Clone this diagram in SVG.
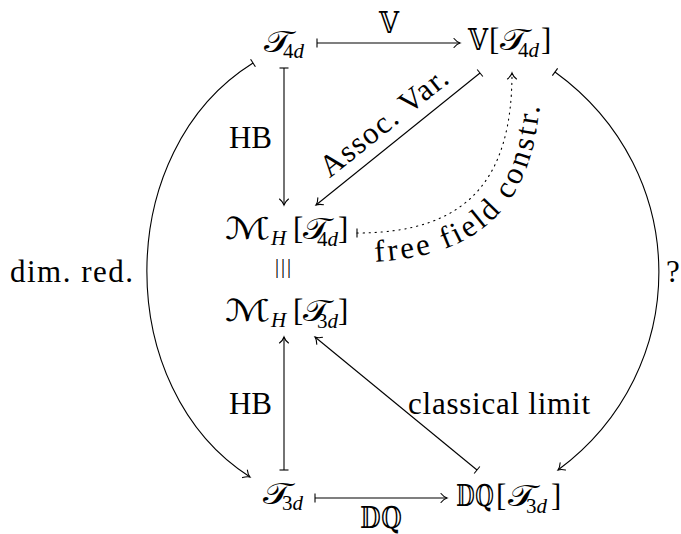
<svg xmlns="http://www.w3.org/2000/svg" width="681" height="534" viewBox="0 0 681 534">
<style>
.t{font-family:"Liberation Serif","Times New Roman",serif;font-size:31px;fill:#000}
.m{font-family:"DejaVu Serif","DejaVu Sans","Noto Sans",serif;font-size:30px;fill:#000}
.s{font-family:"Liberation Serif",serif;font-size:21px;fill:#000}
.i{font-style:italic}
.ln{fill:none;stroke:#000;stroke-width:1.1}
.ar{marker-end:url(#ah);marker-start:url(#bar)}
.dot{stroke-dasharray:1.2 4.8;stroke-linecap:round}
</style>
<defs>
<marker id="ah" viewBox="-10 -6 12 12" refX="0" refY="0" markerWidth="12" markerHeight="12" markerUnits="userSpaceOnUse" orient="auto"><path d="M-6,-4.5 C-4,-2 -1.5,-0.5 0,0 C-1.5,0.5 -4,2 -6,4.5" fill="none" stroke="#000" stroke-width="1.1" stroke-linecap="round"/></marker>
<marker id="bar" viewBox="-6 -6 12 12" refX="0" refY="0" markerWidth="12" markerHeight="12" markerUnits="userSpaceOnUse" orient="auto"><path d="M0,-4.5 V4.5" stroke="#000" stroke-width="1.1"/></marker>
<path id="ffp" d="M330 262 L357 262 C487.6 262 541 199 541 73 L541 30"/>
</defs>
<g id="connectors">
<path class="ln ar" d="M317 43 L460 43"/>
<path class="ln ar" d="M284 68 L284 205"/>
<path class="ln ar" d="M480 73 L316 205"/>
<path class="ln ar dot" d="M357 233 C467 233 512 180 512 73"/>
<path class="ln ar" d="M284 470 L284 337"/>
<path class="ln ar" d="M477 470 L315 337"/>
<path class="ln ar" d="M315 498 L447 498"/>
<path class="ln ar" d="M253 63 C112 151 112 389 250 477"/>
<path class="ln ar" d="M555 72 C693 172 693 370 558 470"/>
<text class="m" x="379" y="33" textLength="20" lengthAdjust="spacingAndGlyphs">𝕍</text>
<text class="t" x="272" y="148" text-anchor="end">HB</text>
<text class="t" x="390" y="130" text-anchor="middle" textLength="155" transform="rotate(-38.66 390 130)">Assoc. Var.</text>
<text class="t" letter-spacing="3"><textPath href="#ffp" startOffset="45">free field constr.</textPath></text>
<text class="t" x="272" y="414" text-anchor="end">HB</text>
<text class="t" x="408" y="414" textLength="182">classical limit</text>
<text class="m" x="360" y="528" textLength="42" lengthAdjust="spacingAndGlyphs">𝔻ℚ</text>
<text class="t" x="10" y="282" textLength="123">dim. red.</text>
<text class="t" x="666" y="282">?</text>
</g>
<g id="n1">
<text class="m" x="264" y="52" textLength="28" lengthAdjust="spacingAndGlyphs">𝒯</text><text class="s" x="283" y="58">4<tspan class="i">d</tspan></text>
</g>
<g id="n2">
<text class="m" x="468" y="50" textLength="20" lengthAdjust="spacingAndGlyphs">𝕍</text><text class="t" x="489" y="50">[</text><text class="m" x="500" y="50" textLength="28" lengthAdjust="spacingAndGlyphs">𝒯</text><text class="s" x="518" y="57">4<tspan class="i">d</tspan></text><text class="t" x="541" y="50">]</text>
</g>
<g id="n3">
<text class="m" x="225" y="239" textLength="45" lengthAdjust="spacingAndGlyphs">ℳ</text><text class="s i" x="271" y="245">H</text><text class="t" x="293" y="239">[</text><text class="m" x="303" y="239" textLength="27" lengthAdjust="spacingAndGlyphs">𝒯</text><text class="s" x="317" y="246">4<tspan class="i">d</tspan></text><text class="t" x="338" y="239">]</text>
</g>
<g id="eq">
<text x="275 281 287" y="273" font-family="Liberation Serif, serif" font-size="20" fill="#000">|||</text>
</g>
<g id="n4">
<text class="m" x="225" y="321" textLength="45" lengthAdjust="spacingAndGlyphs">ℳ</text><text class="s i" x="271" y="327">H</text><text class="t" x="293" y="321">[</text><text class="m" x="303" y="321" textLength="27" lengthAdjust="spacingAndGlyphs">𝒯</text><text class="s" x="317" y="328">3<tspan class="i">d</tspan></text><text class="t" x="338" y="321">]</text>
</g>
<g id="n5">
<text class="m" x="263" y="504" textLength="28" lengthAdjust="spacingAndGlyphs">𝒯</text><text class="s" x="282" y="510">3<tspan class="i">d</tspan></text>
</g>
<g id="n6">
<text class="m" x="456" y="506" textLength="38" lengthAdjust="spacingAndGlyphs">𝔻ℚ</text><text class="t" x="496" y="506">[</text><text class="m" x="508" y="506" textLength="28" lengthAdjust="spacingAndGlyphs">𝒯</text><text class="s" x="526" y="513">3<tspan class="i">d</tspan></text><text class="t" x="551" y="506">]</text>
</g>
</svg>
